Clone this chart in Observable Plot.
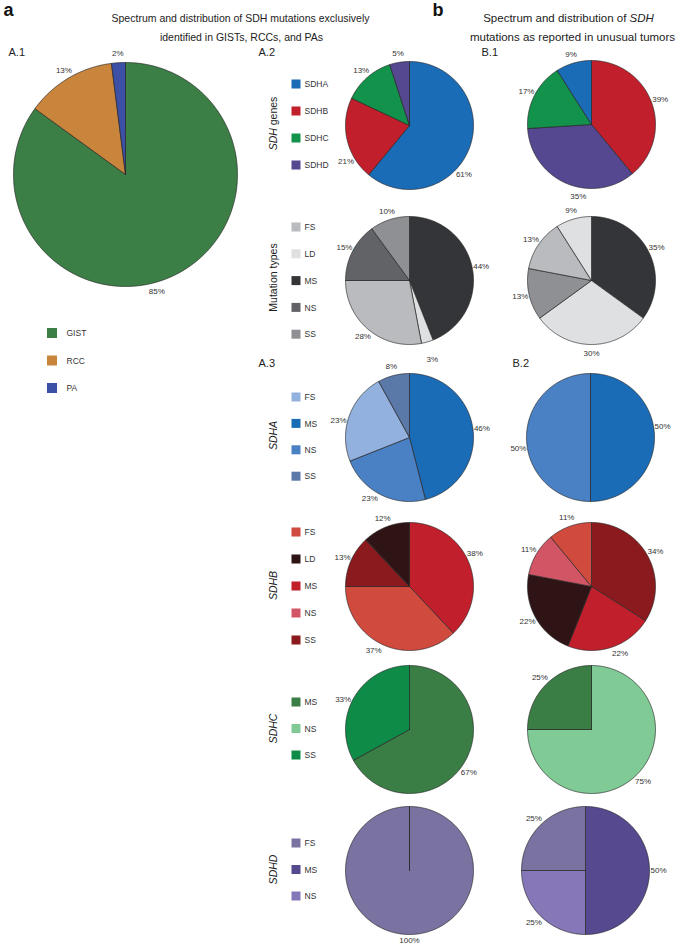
<!DOCTYPE html>
<html><head><meta charset="utf-8">
<script src="https://cdn.jsdelivr.net/npm/d3@7"></script>
<script src="https://cdn.jsdelivr.net/npm/@observablehq/plot@0.6"></script>
<style>html,body{margin:0;padding:0;background:#fff}#chart svg{display:block}</style>
</head><body><div id="chart"></div>
<script>
// ---------------- DATA ----------------
const a1Categories = ["GIST", "RCC", "PA"];
const geneCategories = ["SDHA", "SDHB", "SDHC", "SDHD"];
const mutCategories = ["FS", "LD", "MS", "NS", "SS"];
const sdhaCategories = ["FS", "MS", "NS", "SS"];
const sdhbCategories = ["FS", "LD", "MS", "NS", "SS"];
const sdhcCategories = ["MS", "NS", "SS"];
const sdhdCategories = ["FS", "MS", "NS"];

// slices listed clockwise from 12 o'clock
const a1Slices = ["GIST", "RCC", "PA"];           const a1Values = [85, 13, 2];
const a2GeneSlices = ["SDHA", "SDHB", "SDHC", "SDHD"]; const a2GeneValues = [61, 21, 13, 5];
const b1GeneSlices = ["SDHB", "SDHD", "SDHC", "SDHA"]; const b1GeneValues = [39, 35, 17, 9];
const a2MutSlices = ["MS", "LD", "FS", "NS", "SS"];   const a2MutValues = [44, 3, 28, 15, 10];
const b1MutSlices = ["MS", "LD", "SS", "FS", "LD"];   const b1MutValues = [35, 30, 13, 13, 9];
const a3SdhaSlices = ["MS", "NS", "FS", "SS"];        const a3SdhaValues = [46, 23, 23, 8];
const b2SdhaSlices = ["MS", "NS"];                    const b2SdhaValues = [50, 50];
const a3SdhbSlices = ["MS", "FS", "SS", "LD"];        const a3SdhbValues = [38, 37, 13, 12];
const b2SdhbSlices = ["SS", "MS", "LD", "NS", "FS"];  const b2SdhbValues = [34, 22, 22, 11, 11];
const a3SdhcSlices = ["MS", "SS"];                    const a3SdhcValues = [67, 33];
const b2SdhcSlices = ["NS", "MS"];                    const b2SdhcValues = [75, 25];
const a3SdhdSlices = ["FS"];                          const a3SdhdValues = [100];
const b2SdhdSlices = ["MS", "NS", "FS"];              const b2SdhdValues = [50, 25, 25];

const titleA = ["Spectrum and distribution of SDH mutations exclusively", "identified in GISTs, RCCs, and PAs"];
const titleB = ["Spectrum and distribution of SDH", "mutations as reported in unusual tumors"];
const sideTexts = ["SDH genes", "Mutation types"];
const sideGenes = ["SDHA", "SDHB", "SDHC", "SDHD"];
const panelTexts = ["A.1", "A.2", "B.1", "A.3", "B.2"];

// ---------------- STYLES ----------------
const a1Palette = {GIST: "#3b7f46", RCC: "#c9853b", PA: "#3c50a6"};
const genePalette = {SDHA: "#1a6cb6", SDHB: "#c01f2b", SDHC: "#12924a", SDHD: "#564791"};
const mutPalette = {FS: "#babbbe", LD: "#dfe0e2", MS: "#343538", NS: "#626367", SS: "#8f9093"};
const sdhaPalette = {FS: "#93b1de", MS: "#1a6cb6", NS: "#4a80c4", SS: "#5a78a8"};
const sdhbPalette = {FS: "#d04a3e", LD: "#2f1416", MS: "#c11f2b", NS: "#d25565", SS: "#8a1a1d"};
const sdhcPalette = {MS: "#3a7d45", NS: "#80ca96", SS: "#0e8b47"};
const sdhdPalette = {FS: "#7a72a0", MS: "#56498f", NS: "#8678b8"};

// ---------------- LAYOUT ----------------
const W = 685, H = 946;
const FONT = "Liberation Sans, Arial, Helvetica, sans-serif";
const pies = [
  {id: "A1",  slices: a1Slices,     values: a1Values,     pal: a1Palette,   cx: 125, cy: 174, r: 112},
  {id: "A2g", slices: a2GeneSlices, values: a2GeneValues, pal: genePalette, cx: 409, cy: 125, r: 64},
  {id: "B1g", slices: b1GeneSlices, values: b1GeneValues, pal: genePalette, cx: 591, cy: 124, r: 64},
  {id: "A2m", slices: a2MutSlices,  values: a2MutValues,  pal: mutPalette,  cx: 409, cy: 280, r: 64},
  {id: "B1m", slices: b1MutSlices,  values: b1MutValues,  pal: mutPalette,  cx: 591, cy: 280, r: 64},
  {id: "A3a", slices: a3SdhaSlices, values: a3SdhaValues, pal: sdhaPalette, cx: 409, cy: 437, r: 64},
  {id: "B2a", slices: b2SdhaSlices, values: b2SdhaValues, pal: sdhaPalette, cx: 590, cy: 437, r: 64},
  {id: "A3b", slices: a3SdhbSlices, values: a3SdhbValues, pal: sdhbPalette, cx: 409, cy: 586, r: 64},
  {id: "B2b", slices: b2SdhbSlices, values: b2SdhbValues, pal: sdhbPalette, cx: 591, cy: 586, r: 64},
  {id: "A3c", slices: a3SdhcSlices, values: a3SdhcValues, pal: sdhcPalette, cx: 409, cy: 729, r: 64},
  {id: "B2c", slices: b2SdhcSlices, values: b2SdhcValues, pal: sdhcPalette, cx: 591, cy: 729, r: 64},
  {id: "A3d", slices: a3SdhdSlices, values: a3SdhdValues, pal: sdhdPalette, cx: 409, cy: 870, r: 64},
  {id: "B2d", slices: b2SdhdSlices, values: b2SdhdValues, pal: sdhdPalette, cx: 585, cy: 870, r: 64}
];
// label angle nudges (degrees) / radial extra (px)
const labelAdjust = {
  "A1-0": {da: 12}, "A2g-0": {da: 22}, "A2g-1": {da: -17}, "B1g-1": {da: -13},
  "B2a-0": {da: -9}, "B2a-1": {da: -9}, "A2m-1": {dr: 9}, "A3a-1": {da: 6}, "A3a-2": {da: -6},
  "A3b-0": {da: -5}, "A3b-1": {da: 6}, "B2b-1": {da: -5}, "A3c-0": {da: 5}, "A3c-1": {da: -6},
  "A3d-0": {dr: -3}
};
const legends = [
  {cats: a1Categories,   pal: a1Palette,   x: 52,  y0: 333, step: 27.5, size: 10},
  {cats: geneCategories, pal: genePalette, x: 296, y0: 84,  step: 27,   size: 9},
  {cats: mutCategories,  pal: mutPalette,  x: 296, y0: 227, step: 26.8, size: 9},
  {cats: sdhaCategories, pal: sdhaPalette, x: 296, y0: 397, step: 26.4, size: 9},
  {cats: sdhbCategories, pal: sdhbPalette, x: 296, y0: 532, step: 27,   size: 9},
  {cats: sdhcCategories, pal: sdhcPalette, x: 296, y0: 702, step: 26.5, size: 9},
  {cats: sdhdCategories, pal: sdhdPalette, x: 296, y0: 843, step: 26.5, size: 9}
];
const sideX = 273;
const sideTextY = [123, 277];
const sideGeneY = [435, 585, 728, 869];
const panelPos = [[8, 52], [258, 52], [481, 52], [258, 363], [512, 363]];
const titleAPos = [[240, 18], [241, 37]];
const titleBPos = [[568, 18], [572, 37]];
const bigLetters = [{text: "a", x: 3, y: 10}, {text: "b", x: 432, y: 10}];

// ---------------- GEOMETRY ----------------
const slicePts = [], labels = [];
for (const p of pies) {
  const total = d3.sum(p.values);
  let acc = 0;
  p.values.forEach((v, i) => {
    const a0 = acc / total * 2 * Math.PI; acc += v;
    const a1 = acc / total * 2 * Math.PI;
    const key = p.id + "-" + i, color = p.pal[p.slices[i]];
    slicePts.push({key, color, x: p.cx, y: p.cy});
    const n = Math.max(2, Math.ceil((a1 - a0) / (Math.PI / 360)));
    for (let k = 0; k <= n; k++) {
      const a = a0 + (a1 - a0) * k / n;
      slicePts.push({key, color, x: p.cx + p.r * Math.sin(a), y: p.cy - p.r * Math.cos(a)});
    }
    slicePts.push({key, color, x: p.cx, y: p.cy});
    const adj = labelAdjust[key] || {};
    const am = (a0 + a1) / 2 + (adj.da || 0) * Math.PI / 180;
    const lr = p.r + 9 + (adj.dr || 0);
    labels.push({text: v + "%", x: p.cx + lr * Math.sin(am), y: p.cy - lr * Math.cos(am)});
  });
}
const legendItems = [];
for (const L of legends) L.cats.forEach((c, i) => legendItems.push({
  label: c, color: L.pal[c], x: L.x, y: L.y0 + i * L.step, s: L.size
}));
const sideA = sideTexts.map((t, i) => ({text: t, y: sideTextY[i]}));
const sideB = sideGenes.map((t, i) => ({text: t, y: sideGeneY[i]}));
const panels = panelTexts.map((t, i) => ({text: t, x: panelPos[i][0], y: panelPos[i][1]}));
const titlesA = titleA.map((t, i) => ({text: t, x: titleAPos[i][0], y: titleAPos[i][1]}));
const titlesB = titleB.map((t, i) => ({text: t, x: titleBPos[i][0], y: titleBPos[i][1]}));

const chart = Plot.plot({
  width: W, height: H, margin: 0,
  x: {domain: [0, W], range: [0, W], axis: null},
  y: {domain: [0, H], range: [0, H], axis: null},
  color: {type: "identity"},
  style: {fontFamily: FONT, background: "#fff"},
  marks: [
    Plot.line(slicePts, {x: "x", y: "y", z: "key", fill: "color", stroke: "#262626", strokeWidth: 0.7, strokeLinejoin: "round", curve: "linear"}),
    Plot.text(labels, {x: "x", y: "y", text: "text", fontSize: 8, fill: "#333", fontFamily: FONT}),
    Plot.rect(legendItems, {x1: d => d.x - d.s / 2, x2: d => d.x + d.s / 2, y1: d => d.y - d.s / 2, y2: d => d.y + d.s / 2, fill: "color"}),
    Plot.text(legendItems, {x: d => d.x + (d.s > 9 ? 14 : 8), y: "y", text: "label", textAnchor: "start", fontSize: 8.5, fill: "#333", fontFamily: FONT}),
    Plot.text(sideA, {x: sideX, y: "y", text: "text", rotate: -90, fontSize: 10.5, fill: "#222", fontFamily: FONT}),
    Plot.text(sideB, {x: sideX, y: "y", text: "text", rotate: -90, fontSize: 10.5, fill: "#222", fontStyle: "italic", fontFamily: FONT}),
    Plot.text(panels, {x: "x", y: "y", text: "text", textAnchor: "start", fontSize: 11, fill: "#222", fontFamily: FONT}),
    Plot.text(titlesA, {x: "x", y: "y", text: "text", fontSize: 10.5, fill: "#222", fontFamily: FONT}),
    Plot.text(titlesB, {x: "x", y: "y", text: "text", fontSize: 11.5, fill: "#222", fontFamily: FONT}),
    Plot.text(bigLetters, {x: "x", y: "y", text: "text", textAnchor: "start", fontSize: 18, fontWeight: "bold", fill: "#111", fontFamily: FONT})
  ]
});
// italicise the gene symbol "SDH" inside mixed labels
d3.select(chart).selectAll("text").each(function () {
  const t = this.textContent;
  if (t === "SDH genes" || t === "Spectrum and distribution of SDH") {
    const k = t.indexOf("SDH");
    const pre = t.slice(0, k), post = t.slice(k + 3);
    this.textContent = "";
    const s = d3.select(this);
    if (pre) s.append("tspan").text(pre);
    s.append("tspan").attr("font-style", "italic").text("SDH");
    if (post) s.append("tspan").text(post);
  }
});
document.getElementById("chart").appendChild(chart);
</script>
</body></html>
